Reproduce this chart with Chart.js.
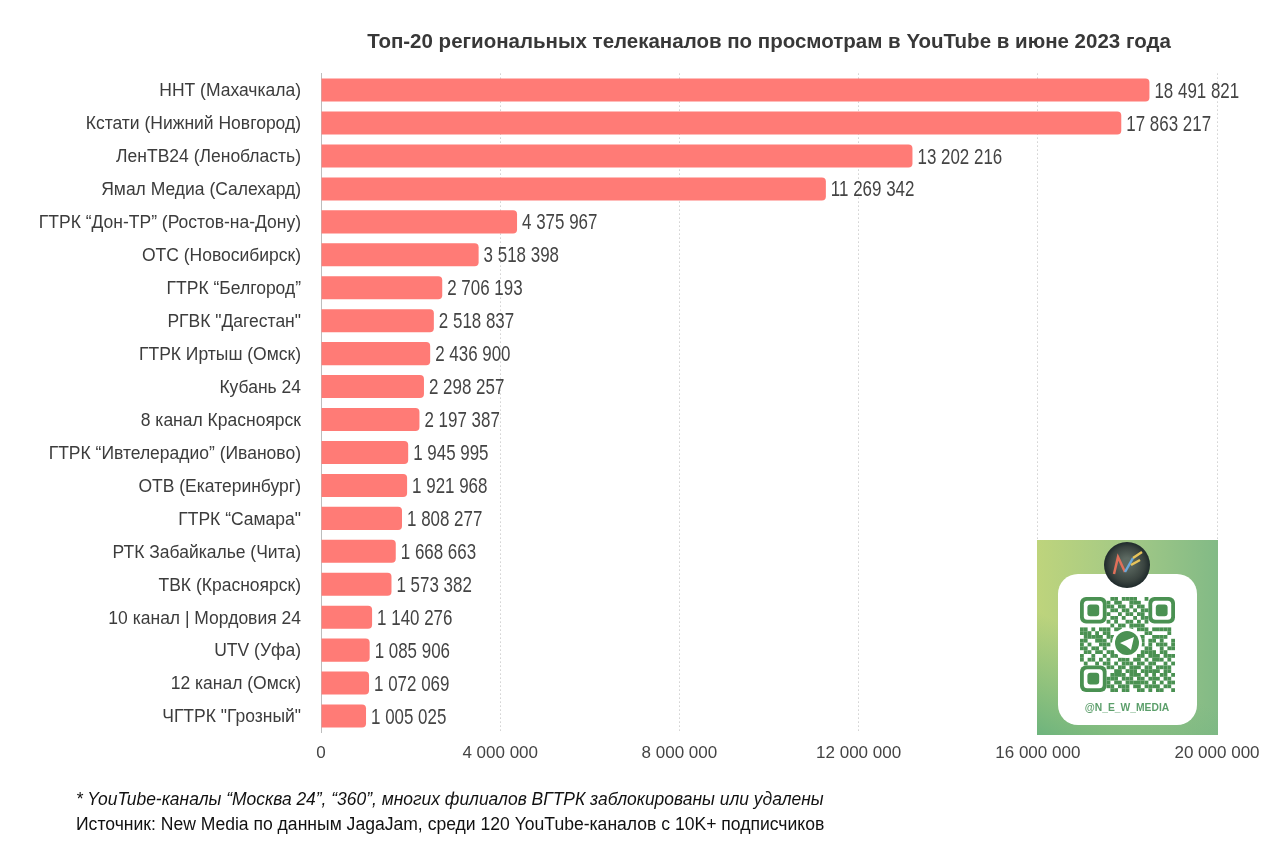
<!DOCTYPE html>
<html>
<head>
<meta charset="utf-8">
<script src="https://cdn.jsdelivr.net/npm/chart.js@4"></script>
<style>
  body { margin: 0; background: #fff; }
  #wrap { position: relative; width: 1280px; height: 855px; }
  #foot { position: absolute; left: 76px; top: 787px; font: 17.45px/25px "Liberation Sans", sans-serif; color: #111; white-space: nowrap; }
  #foot i { display: block; }
  #foot span { font-size: 17.57px; }
</style>
</head>
<body>
<div id="wrap">
  <canvas id="chart" width="1280" height="855"></canvas>
  <div id="foot">
    <i>* YouTube-каналы “Москва 24”, “360”, многих филиалов ВГТРК заблокированы или удалены</i>
    <span>Источник: New Media по данным JagaJam, среди 120 YouTube-каналов с 10K+ подписчиков</span>
  </div>
</div>
<script>
const channels = ['ННТ (Махачкала)', 'Кстати (Нижний Новгород)', 'ЛенТВ24 (Ленобласть)', 'Ямал Медиа (Салехард)',
    'ГТРК “Дон-ТР” (Ростов-на-Дону)', 'ОТС (Новосибирск)', 'ГТРК “Белгород”', 'РГВК "Дагестан"', 'ГТРК Иртыш (Омск)',
    'Кубань 24', '8 канал Красноярск', 'ГТРК “Ивтелерадио” (Иваново)', 'ОТВ (Екатеринбург)', 'ГТРК “Самара"',
    'РТК Забайкалье (Чита)', 'ТВК (Красноярск)', '10 канал | Мордовия 24', 'UTV (Уфа)', '12 канал (Омск)', 'ЧГТРК "Грозный"'];
const views = [18491821, 17863217, 13202216, 11269342, 4375967, 3518398, 2706193, 2518837, 2436900, 2298257,
    2197387, 1945995, 1921968, 1808277, 1668663, 1573382, 1140276, 1085906, 1072069, 1005025];
const axisTicks = [0, 4000000, 8000000, 12000000, 16000000, 20000000];

// QR picture from the corner of the reference, one string per row (finders drawn apart)
const qrRows = [
    '0000000011011110010000000',
    '0000000101100111000000000',
    '0000000110110101100000000',
    '0000000011011010110000000',
    '0000000100101101100000000',
    '0000000011010010110000000',
    '0000000101001101010000000',
    '0000000010110111100000000',
    '1101011101100101110111110',
    '1110101100111000011000010',
    '0111110110000011100111100',
    '1100111010000001101101001',
    '1010011100000000101011101',
    '1101101000000000011001011',
    '0110110110000000111101100',
    '1001001011000001101110111',
    '1011010100111011010111010',
    '0100101101011101101100101',
    '0000000110110111011011110',
    '0000000001101110111110110',
    '0000000011110111010101101',
    '0000000111011101101110110',
    '0000000101101111110101011',
    '0000000110111011011110110',
    '0000000011011001101011001'
];

function fmt(n) {
    return String(n).replace(/\B(?=(\d{3})+$)/g, ' ');
}

function rrect(ctx, x, y, w, h, r) {
    ctx.beginPath();
    ctx.roundRect(x, y, w, h, r);
}

function finder(ctx, x, y, size) {
    ctx.fillStyle = '#4a9152';
    rrect(ctx, x, y, size, size, 6);
    ctx.fill();
    ctx.fillStyle = '#fff';
    rrect(ctx, x + 3.8, y + 3.8, size - 7.6, size - 7.6, 3.5);
    ctx.fill();
    ctx.fillStyle = '#4a9152';
    rrect(ctx, x + 7.4, y + 7.4, size - 14.8, size - 14.8, 3);
    ctx.fill();
}

// category labels sit a little lower than chart.js puts them
const nudgeLabels = {
    id: 'nudgeLabels',
    afterUpdate(chart) {
        chart.scales.y.getLabelItems().forEach(item => {
            item.options.translation = [item.options.translation[0], item.options.translation[1] + 1.5];
        });
    }
};

// values after the bars, squeezed sideways like the narrow face of the source
const barValues = {
    id: 'barValues',
    afterDatasetsDraw(chart) {
        const ctx = chart.ctx;
        const meta = chart.getDatasetMeta(0);
        const squeeze = 0.77;
        ctx.save();
        ctx.font = '22px "Liberation Sans", sans-serif';
        ctx.fillStyle = '#444';
        ctx.textAlign = 'left';
        ctx.textBaseline = 'middle';
        meta.data.forEach((bar, i) => {
            ctx.save();
            ctx.translate(bar.x + 5, bar.y + 1.5);
            ctx.scale(squeeze, 1);
            ctx.fillText(fmt(views[i]), 0, 0);
            ctx.restore();
        });
        ctx.restore();
    }
};

// telegram card sitting over the lower right of the plot
const qrCard = {
    id: 'qrCard',
    afterDraw(chart) {
        const ctx = chart.ctx;
        ctx.save();
        let g = ctx.createLinearGradient(1037, 0, 1218, 0);
        g.addColorStop(0, '#bed47c');
        g.addColorStop(0.5, '#a3c986');
        g.addColorStop(1, '#82ba86');
        ctx.fillStyle = g;
        ctx.fillRect(1037, 540, 181, 195);
        g = ctx.createLinearGradient(1037, 735, 1090, 640);
        g.addColorStop(0, 'rgba(105,178,125,0.95)');
        g.addColorStop(1, 'rgba(105,178,125,0)');
        ctx.fillStyle = g;
        ctx.fillRect(1037, 540, 181, 195);

        ctx.fillStyle = '#fff';
        rrect(ctx, 1058, 574, 139, 151, 20);
        ctx.fill();

        // avatar
        g = ctx.createRadialGradient(1127, 562, 4, 1127, 565, 23);
        g.addColorStop(0, '#5d6a62');
        g.addColorStop(0.7, '#39433f');
        g.addColorStop(1, '#1f2a2b');
        ctx.fillStyle = g;
        ctx.beginPath();
        ctx.arc(1127, 565, 23, 0, Math.PI * 2);
        ctx.fill();
        ctx.lineWidth = 2.5;
        ctx.strokeStyle = '#e0705a';
        ctx.beginPath();
        ctx.moveTo(1114, 574); ctx.lineTo(1118, 557); ctx.lineTo(1125, 572);
        ctx.stroke();
        ctx.strokeStyle = '#6aa8dc';
        ctx.beginPath();
        ctx.moveTo(1125, 572); ctx.lineTo(1133, 558);
        ctx.stroke();
        ctx.strokeStyle = '#e8c45a';
        ctx.beginPath();
        ctx.moveTo(1133, 558); ctx.lineTo(1142, 552);
        ctx.moveTo(1131, 565); ctx.lineTo(1140, 560);
        ctx.stroke();

        // qr modules
        const qrX = 1080, qrY = 597, cell = 3.8;
        ctx.filter = 'blur(0.5px)';
        ctx.fillStyle = '#4a9152';
        qrRows.forEach((row, r) => {
            [...row].forEach((c, k) => {
                if (c === '1') ctx.fillRect(qrX + k * cell, qrY + r * cell, cell, cell);
            });
        });
        finder(ctx, qrX, qrY, cell * 7);
        finder(ctx, qrX + cell * 18, qrY, cell * 7);
        finder(ctx, qrX, qrY + cell * 18, cell * 7);
        ctx.filter = 'none';

        // blank middle and telegram badge
        ctx.fillStyle = '#fff';
        ctx.beginPath();
        ctx.arc(1127, 643, 15, 0, Math.PI * 2);
        ctx.fill();
        ctx.fillStyle = '#4a9152';
        ctx.beginPath();
        ctx.arc(1127, 643, 12, 0, Math.PI * 2);
        ctx.fill();
        ctx.fillStyle = '#fff';
        ctx.beginPath();
        ctx.moveTo(1120, 643); ctx.lineTo(1134, 637); ctx.lineTo(1131, 650); ctx.lineTo(1126, 646);
        ctx.closePath();
        ctx.fill();

        ctx.fillStyle = '#5c9f6b';
        ctx.font = 'bold 10.3px "Liberation Sans", sans-serif';
        ctx.textAlign = 'center';
        ctx.textBaseline = 'middle';
        ctx.fillText('@N_E_W_MEDIA', 1127, 708);
        ctx.restore();
    }
};

new Chart(document.getElementById('chart').getContext('2d'), {
    type: 'bar',
    data: {
        labels: channels,
        datasets: [{
            data: views,
            backgroundColor: '#ff7b76',
            borderRadius: { topRight: 4, bottomRight: 4 },
            borderSkipped: 'left',
            categoryPercentage: 0.7,
            barPercentage: 1
        }]
    },
    options: {
        indexAxis: 'y',
        responsive: false,
        animation: false,
        layout: { padding: { left: 0, right: 63, top: 0, bottom: 0 } },
        plugins: {
            legend: { display: false },
            tooltip: { enabled: false },
            title: {
                display: true,
                text: 'Топ-20 региональных телеканалов по просмотрам в YouTube в июне 2023 года',
                fullSize: false,
                color: '#383838',
                font: { family: '"Liberation Sans", sans-serif', size: 20.5, weight: 'bold' },
                padding: { top: 30, bottom: 19 }
            }
        },
        scales: {
            x: {
                min: 0,
                max: 20000000,
                afterBuildTicks(axis) {
                    axis.ticks = axisTicks.map(v => ({ value: v }));
                },
                afterFit(axis) { axis.height = 122.5; },
                ticks: {
                    color: '#444',
                    font: { family: '"Liberation Sans", sans-serif', size: 17 },
                    padding: 11,
                    maxRotation: 0,
                    callback: v => fmt(v)
                },
                grid: { color: '#b8b8b8', borderDash: [1, 3], drawTicks: false, lineWidth: 1 },
                border: { display: false, dash: [1, 3] }
            },
            y: {
                afterFit(axis) { axis.width = 321; },
                ticks: {
                    color: '#3c3c3c',
                    font: { family: '"Liberation Sans", sans-serif', size: 17.5 },
                    padding: 20,
                    autoSkip: false
                },
                grid: { display: false, drawTicks: false },
                border: { display: true, color: '#bdbdbd', width: 1 }
            }
        }
    },
    plugins: [nudgeLabels, barValues, qrCard]
});
</script>
</body>
</html>
